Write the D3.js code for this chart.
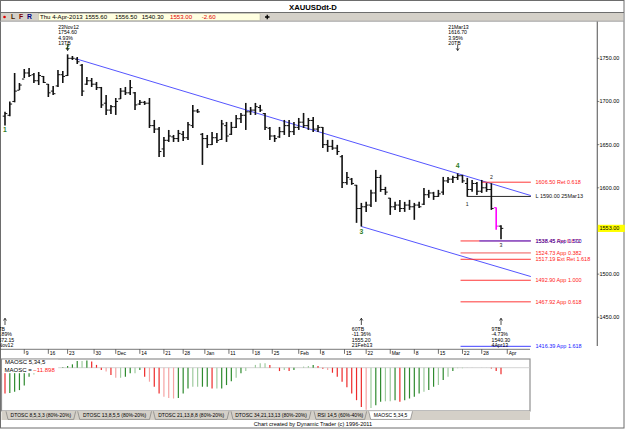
<!DOCTYPE html>
<meta charset="utf-8">
<style>
body { margin: 0; background: #fff; }
svg { display: block; font-family: "Liberation Sans", Arial, sans-serif; }
.bar line { stroke: #111; }
.small { font-size: 5.2px; }
</style>
<body>
<svg width="625" height="429"></svg>
<script src="https://d3js.org/d3.v7.min.js"></script>
<script>

// daily bars, XAUUSD 2 Nov 2012 .. 4 Apr 2013 (index = bar number)
var opens = [1683,1684,1700,1713,1726,1733,1731,1724,1729,1720,1712,1718,1731,1730,1750,1749,1742,1720,1724,1720,
  1716,1698,1690,1694,1703,1712,1710,1710,1697,1699,1698,1672,1668,1645,1655,1659,1657,1662,1658,1672,
  1689,1662,1657,1650,1658,1656,1672,1662,1670,1680,1684,1688,1690,1693,1686,1669,1660,1659,1665,1672,
  1665,1670,1676,1672,1678,1668,1670,1650,1648,1646,1636,1606,1610,1603,1576,1578,1580,1594,1612,1598,
  1588,1578,1580,1576,1580,1578,1580,1581,1592,1594,1590,1595,1608,1610,1612,1614,1605,1598,1605,1596,
  1600,1598,1577,1555.6];
var highs = [1688,1700,1733,1721.4,1737.6,1738.8,1733,1734.1,1729.5,1720.3,1718,1736.5,1735.3,1754.6,1752.7,1751.5,1743.4,1728.4,1727.2,1722.6,
  1716.8,1707.5,1696,1704,1715.6,1716.8,1724.9,1711,1701.8,1700.6,1704,1678.6,1670.5,1658.9,1667,1661.2,1667,1665.9,1676.3,1696,
  1691.3,1663.5,1661.2,1664.7,1663.5,1678.6,1676.3,1676.3,1684.4,1686.7,1698.3,1693.6,1698.3,1696,1686.7,1670.5,1661.2,1670.5,1678.6,1678.6,
  1676.3,1680.9,1686.7,1680.9,1682.1,1672.8,1670.5,1655.5,1655.5,1649.7,1638.1,1618.4,1611.4,1603.4,1582.5,1583.7,1597.6,1620.7,1615,1601.1,
  1588.3,1583.7,1586,1583.7,1586,1582.5,1583.7,1599.9,1597.6,1595.3,1597.6,1612.6,1612.6,1614,1616.7,1615,1611.5,1609.1,1606.8,1609.1,
  1605.7,1605.3,1577.1,1556.5];
var lows = [1672.2,1683,1699,1713.3,1727.2,1728.4,1721.4,1719.1,1721.4,1705.2,1707.5,1716.8,1721.4,1729.5,1748,1743.4,1706.4,1719.1,1716.8,1713.3,
  1692.5,1684.4,1685.5,1684.4,1702.9,1707.5,1707.5,1690.2,1696,1696,1669.3,1663.5,1635.8,1635.8,1653.1,1653.1,1653.1,1654.3,1655.5,1669.3,
  1686.7,1626.5,1646.2,1649.7,1652,1655.5,1653.1,1661.2,1669.3,1675.1,1667,1684.4,1684.4,1687.9,1667,1655.5,1653.1,1657.8,1661.2,1658.9,
  1661.2,1667,1669.3,1667,1664.7,1664.7,1646.2,1641.6,1643.9,1638.1,1599.9,1603.4,1603.4,1559.4,1555.2,1572.1,1577.9,1583.7,1595.3,1591.8,
  1568.6,1574.4,1572.1,1572.1,1574.4,1562.9,1576.7,1580.2,1588.3,1586,1589.5,1591.8,1605.7,1605.7,1609.1,1605.7,1590,1595.3,1591.8,1594.1,
  1595.3,1574.4,1551.3,1540.3];
var closes = [1686,1697,1712,1719,1733,1730,1724,1730,1722,1710,1709,1731,1729,1750,1750,1746,1712,1724,1720,1716,
  1696,1690,1694,1700,1712,1710,1716,1696,1699,1698,1672,1668,1642,1655,1660,1657,1663,1658,1673,1689,
  1688,1657,1650,1658,1655,1674,1660,1670,1680,1684,1688,1690,1694,1690,1670,1660,1657,1665,1672,1665,
  1670,1676,1672,1678,1668,1670,1650,1648,1646,1642,1606,1612,1605,1576,1578,1580,1594,1612,1598,1595,
  1578,1580,1576,1580,1578,1580,1578,1592,1594,1590,1593,1608,1610,1612,1614,1608,1598,1605,1596,1600,
  1598,1576,1555.6,1553];

// MAOSC 5,34,5 histogram, one value per bar
var maosc = [-46,-45,-43,-40,-32,-16,-12,-6,-3,-2,-1,0,1,3,6,12,12,13,11,5,
  -4,-7,-13,-18,-18,-16,-10,-10,-4,-16,-25,-34,-46,-52,-54,-55,-54,-46,-37,-34,
  -34,-34,-34,-37,-37,-37,-31,-24,-18,-10,-6,0,5,8,8,5,0,-6,-4,-6,
  -4,0,2,3,5,3,-2,-4,-9,-16,-25,-35,-46,-58,-70,-75,-72,-67,-61,-60,
  -60,-58,-61,-58,-55,-52,-46,-43,-40,-34,-31,-22,-16,-6,-1,-1,-0.5,0.4,-0.3,0.3,
  -0.4,-1.5,-6,-11.898];

// date axis (bar index of each tick)
var tickIdx = [4,9,13,18.5,23,28,33,37,41.5,46.5,51.5,55.5,61,65.5,70.5,75,80,85,90,95,99,104.3];
var tickLabels = ["9","16","23","30","Dec","14","21","28","Jan","11","18","25","Feb","8","15","22","Mar","8","15","22","28","Apr"];

var priceTicks = [1450,1500,1600,1650,1700,1750];

// projection levels on the right
var levelPrices = [1606.50,1590.00,1538.45,1538.45,1524.73,1517.19,1492.90,1467.92,1416.39];
var levelTexts = ["1606.50 Ret 0.618","L 1590.00 25Mar13","1538.45 Ret 0.872","1538.45 App 0.500",
  "1524.73 App 0.382","1517.19 Ext Ret 1.618","1492.90 App 1.000","1467.92 App 0.618","1416.39 App 1.618"];
var levelStart = [99,95.9,94.6,98.5,94.6,94.6,94.6,94.6,94.6];

// trend channel
var upperLine = [{i:14.7,p:1749.5},{i:109.2,p:1591}];
var lowerLine = [{i:74,p:1555.2},{i:109.2,p:1497.2}];

// pivots
var topPivots = [{i:13,lines:["23Nov12","1754.60","4.93%","13TB"]},
                 {i:94,lines:["21Mar13","1616.70","3.95%","20TB"]}];
var bottomPivots = [{i:0,lines:["5TB","-2.89%","1672.15","2Nov12"]},
                    {i:74,lines:["60TB","-11.36%","1555.20","21Feb13"]},
                    {i:103,lines:["9TB","-4.73%","1540.30","4Apr13"]}];
var greenWaves = [{i:0,t:"1",p:1667},{i:13,t:"2",p:1763},{i:74,t:"3",p:1549.3},{i:94,t:"4",p:1625.4}];
var blackWaves = [{i:96,t:"1",p:1581.4},{i:101,t:"2",p:1612.3},{i:103,t:"3",p:1533.9}];

var svg = d3.select("svg");

// scales
var x = d3.scaleLinear().domain([0, 103]).range([5, 501]);
var y = d3.scaleLinear().domain([1450, 1750]).range([317.3, 58.3]);
var ym = d3.scaleLinear().domain([-75, 0]).range([409.7, 367.7]);

// window frame, title, toolbar
svg.append("rect").attr("x",0.5).attr("y",0.5).attr("width",623.5).attr("height",427.5)
   .attr("fill","#fff").attr("stroke","#6d6d6d");
svg.append("text").attr("x",313).attr("y",9.6).attr("text-anchor","middle")
   .attr("font-size",7.7).attr("font-weight","bold").text("XAUUSDdt-D");
svg.append("line").attr("x1",0).attr("x2",624).attr("y1",12.5).attr("y2",12.5).attr("stroke","#6d6d6d");
svg.append("rect").attr("x",1).attr("y",13).attr("width",622).attr("height",8).attr("fill","#d4d0c8");
svg.append("line").attr("x1",0).attr("x2",624).attr("y1",21.2).attr("y2",21.2).attr("stroke","#a0a0a0");
svg.append("circle").attr("cx",4.5).attr("cy",17).attr("r",1.3).attr("fill","#e00000");
[["L",11,"#402000"],["F",19,"#800000"],["R",27,"#000080"]].forEach(function(d){
  svg.append("text").attr("x",d[1]).attr("y",19.4).attr("font-size",6.8).attr("font-weight","bold")
     .attr("fill",d[2]).text(d[0]);
});
svg.append("rect").attr("x",38.3).attr("y",13.6).attr("width",221.7).attr("height",6.8)
   .attr("fill","#ffffe0").attr("stroke","#b0b0a0").attr("stroke-width",0.5);
[["Thu 4-Apr-2013",40,"#000"],["1555.60",85,"#000"],["1556.50",115,"#000"],["1540.30",141.7,"#000"],
 ["1553.00",170,"#e00000"],["-2.60",201.7,"#e00000"]].forEach(function(d){
  svg.append("text").attr("x",d[1]).attr("y",19.2).attr("font-size",6.1).attr("fill",d[2]).text(d[0]);
});
svg.append("path").attr("d","M265,17H269.5M267.25,14.8V19.2").attr("stroke","#000").attr("stroke-width",1.3);

// price axis
svg.append("line").attr("x1",597.3).attr("x2",597.3).attr("y1",21.5).attr("y2",346)
   .attr("stroke","#6d6d6d").attr("stroke-width",1.2);
var pt = svg.append("g").selectAll("g").data(priceTicks).join("g")
   .attr("transform", function(d){ return "translate(0," + y(d) + ")"; });
pt.append("line").attr("x1",597.3).attr("x2",599.3).attr("stroke","#333").attr("stroke-width",0.6);
pt.append("text").attr("x",599.5).attr("dy","0.35em").attr("font-size",5.5).text(function(d){ return d3.format(".2f")(d); });
svg.append("rect").attr("x",597.8).attr("y",y(closes[103])-3.6).attr("width",27).attr("height",7.2).attr("fill","#ffff00");
svg.append("text").attr("x",599.5).attr("y",y(closes[103])).attr("dy","0.35em").attr("font-size",5.5)
   .text(d3.format(".2f")(closes[103]));

// date axis
svg.append("line").attr("x1",0).attr("x2",530).attr("y1",349.3).attr("y2",349.3).attr("stroke","#555").attr("stroke-width",0.8);
var dt = svg.append("g").selectAll("g").data(tickIdx).join("g")
   .attr("transform", function(d){ return "translate(" + x(d) + ",0)"; });
dt.append("line").attr("y1",349.3).attr("y2",353.8).attr("stroke","#333").attr("stroke-width",0.7);
dt.append("text").attr("x",1.4).attr("y",355.4).attr("font-size",5).text(function(d,i){ return tickLabels[i]; });

// trend channel
var tl = d3.line().x(function(d){ return x(d.i); }).y(function(d){ return y(d.p); });
[upperLine, lowerLine].forEach(function(l){
  svg.append("path").attr("d", tl(l)).attr("fill","none").attr("stroke","#2a2aff").attr("stroke-width",0.8);
});

// levels
var lvColor = ["#ff2020","#111","#ff2020","#2a2aff","#f6a0a0","#ff2020","#ff2020","#ff2020","#2a2aff"];
var lvTextColor = ["#ff2020","#111","#ff2020","#2020d0","#ff2020","#ff2020","#ff2020","#ff2020","#2020ff"];
levelPrices.forEach(function(p, k){
  svg.append("line").attr("x1",x(levelStart[k])).attr("x2",x(109.2)).attr("y1",y(p)).attr("y2",y(p))
     .attr("stroke",lvColor[k]).attr("stroke-width", k === 4 ? 1.8 : 0.9);
  svg.append("text").attr("x",535.5).attr("y",y(p)).attr("dy","0.35em").attr("font-size",5.5)
     .attr("fill",lvTextColor[k]).text(levelTexts[k]);
});

// OHLC bars (bar 102 drawn in magenta)
function barColor(i){ return i === 102 ? "#ff00ff" : null; }
var bars = svg.append("g").attr("class","bar").selectAll("g").data(d3.range(highs.length)).join("g")
   .attr("transform", function(i){ return "translate(" + x(i) + ",0)"; });
bars.append("line").attr("y1",function(i){ return y(highs[i]); }).attr("y2",function(i){ return y(lows[i]); })
   .attr("stroke-width",1.6).style("stroke", barColor);
bars.append("line").attr("x1",-2.3).attr("x2",0).attr("y1",function(i){ return y(opens[i]); }).attr("y2",function(i){ return y(opens[i]); })
   .attr("stroke-width",1).style("stroke", barColor);
bars.append("line").attr("x1",0).attr("x2",2.3).attr("y1",function(i){ return y(closes[i]); }).attr("y2",function(i){ return y(closes[i]); })
   .attr("stroke-width",1).style("stroke", barColor);

// wave labels
greenWaves.forEach(function(d){
  svg.append("text").attr("x",x(d.i)).attr("y",y(d.p)).attr("dy","0.35em").attr("text-anchor","middle")
     .attr("font-size",6.8).attr("font-weight","bold").attr("fill","#2f7d1f").text(d.t);
});
blackWaves.forEach(function(d){
  svg.append("text").attr("x",x(d.i)).attr("y",y(d.p)).attr("dy","0.35em").attr("text-anchor","middle")
     .attr("font-size",5.2).attr("fill","#222").text(d.t);
});

// pivot annotations
topPivots.forEach(function(d){
  var cx = x(d.i);
  d.lines.forEach(function(t, k){
    svg.append("text").attr("class","small").attr("x",cx - 9.4).attr("y",28.6 + k*5.6).text(t);
  });
  svg.append("path").attr("d","M"+cx+",44.8V50.5M"+(cx-1.5)+",48.3L"+cx+",50.5L"+(cx+1.5)+",48.3")
     .attr("fill","none").attr("stroke","#000").attr("stroke-width",0.7);
});
bottomPivots.forEach(function(d){
  var cx = x(d.i);
  d.lines.forEach(function(t, k){
    svg.append("text").attr("class","small").attr("x",cx - 9.5).attr("y",330.6 + k*5.5).text(t);
  });
  svg.append("path").attr("d","M"+cx+",318.3V325M"+(cx-1.5)+",320.5L"+cx+",318.3L"+(cx+1.5)+",320.5")
     .attr("fill","none").attr("stroke","#000").attr("stroke-width",0.7);
});

// MAOSC panel
svg.append("rect").attr("x",1.5).attr("y",359).attr("width",528.5).attr("height",52)
   .attr("fill","#fff").attr("stroke","#909090").attr("stroke-width",1.2);
svg.append("line").attr("x1",2).attr("x2",530).attr("y1",ym(0)).attr("y2",ym(0)).attr("stroke","#c8c8c8").attr("stroke-width",0.8);
function maColor(i){
  var d = i > 0 ? maosc[i] - maosc[i-1] : -1;
  var dp = i > 1 ? maosc[i-1] - maosc[i-2] : 0;
  var strong = Math.abs(d) >= Math.abs(dp);
  if (Math.abs(maosc[i]) < 0.8) return "#c8c8c8";
  if (d >= 0) return strong ? "#2e8a2e" : "#9fcb9f";
  return strong ? "#ee2a2a" : "#f5a3a3";
}
svg.append("g").selectAll("line").data(d3.range(maosc.length)).join("line")
   .attr("x1",function(i){ return x(i); }).attr("x2",function(i){ return x(i); })
   .attr("y1",ym(0)).attr("y2",function(i){ return ym(maosc[i]); })
   .attr("stroke",maColor).attr("stroke-width",1.2);
svg.append("rect").attr("x",2.2).attr("y",359.8).attr("width",56).attr("height",13.4).attr("fill","#fff");
svg.append("text").attr("x",5).attr("y",364.3).attr("font-size",6).text("MAOSC 5,34,5");
var mt = svg.append("text").attr("x",4.5).attr("y",372.2).attr("font-size",6);
mt.append("tspan").text("MAOSC = ");
mt.append("tspan").attr("fill","#ff2020").text(d3.format(".3f")(maosc[maosc.length-1]));

// tabs
svg.append("rect").attr("x",1.5).attr("y",411).attr("width",528.5).attr("height",9).attr("fill","#d4d0c8");
var tabs = [["DTOSC 8,5,3,3 (80%-20%)",6,75.7],["DTOSC 13,8,5,5 (80%-20%)",77.7,151.5],
  ["DTOSC 21,13,8,8 (80%-20%)",153.4,229],["DTOSC 34,21,13,13 (80%-20%)",231,311],
  ["RSI 14,5 (60%-40%)",314,366.7],["MAOSC 5,34,5",368.7,412.5]];
tabs.forEach(function(t, k){
  var active = k === tabs.length - 1;
  svg.append("path").attr("d","M"+t[1]+",411.3L"+(t[1]+2)+",419.4H"+(t[2]-2)+"L"+t[2]+",411.3")
     .attr("fill", active ? "#fff" : "#d4d0c8").attr("stroke","#707070").attr("stroke-width",0.6);
  svg.append("text").attr("x",(t[1]+t[2])/2).attr("y",417.4).attr("text-anchor","middle")
     .attr("font-size",5).text(t[0]);
});
svg.append("text").attr("x",313).attr("y",425.8).attr("text-anchor","middle").attr("font-size",5.6)
   .text("Chart created by Dynamic Trader  (c) 1996-2011");

</script>
</body>
